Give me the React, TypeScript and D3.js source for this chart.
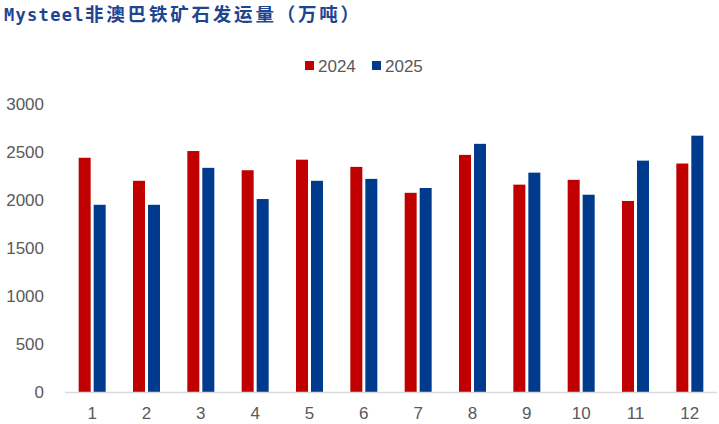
import React from "react";
import * as d3 from "d3";

const months = ["1", "2", "3", "4", "5", "6", "7", "8", "9", "10", "11", "12"];
const values2024 = [2440, 2200, 2510, 2310, 2420, 2345, 2075, 2470, 2160, 2210, 1990, 2380];
const values2025 = [1950, 1950, 2335, 2010, 2200, 2220, 2125, 2585, 2285, 2055, 2410, 2670];
const seriesNames = ["2024", "2025"];
const yTicks = [0, 500, 1000, 1500, 2000, 2500, 3000];

const W = 719;
const H = 424;
const colors = ["#C00000", "#003A8C"];

export default function App() {
  const left = 65, right = 717, top = 104, bottom = 392;
  const x = d3.scaleBand<string>().domain(months).range([left, right]).paddingInner(0).paddingOuter(0);
  const y = d3.scaleLinear().domain([0, 3000]).range([bottom, top]);
  const barW = 12;
  const gap = 3;
  const series = [values2024, values2025];
  const font = "'Liberation Sans', Arial, sans-serif";

  return (
    <svg width={W} height={H} style={{ position: "absolute", left: 0, top: 0, background: "#fff" }}>
      <rect x={0} y={0} width={W} height={H} fill="#fff" />
      <text x={4} y={21} fontWeight="bold" fill="#1F4591">
        <tspan fontFamily="'DejaVu Sans Mono', monospace" fontSize={17} letterSpacing={1.3}>Mysteel</tspan>
        <tspan x={85} fontFamily="'Noto Sans CJK SC', sans-serif" fontSize={18.5} letterSpacing={2.8}>非澳巴铁矿石发运量（万吨）</tspan>
      </text>
      {/* legend */}
      {seriesNames.map((s, i) => (
        <g key={s} transform={`translate(${305 + i * 67},0)`}>
          <rect x={0} y={61} width={9} height={9} fill={colors[i]} />
          <text x={13} y={72} fontFamily={font} fontSize={17} fill="#595959">{s}</text>
        </g>
      ))}
      {/* y axis labels */}
      {yTicks.map((t) => (
        <text key={t} x={44} y={y(t) + 6} textAnchor="end" fontFamily={font} fontSize={17} fill="#595959">
          {t}
        </text>
      ))}
      {/* bars */}
      {months.map((m, mi) => {
        const cx = (x(m) as number) + x.bandwidth() / 2;
        const start = cx - (barW * 2 + gap) / 2;
        return series.map((vals, si) => (
          <rect
            key={m + "-" + si}
            x={start + si * (barW + gap)}
            y={y(vals[mi])}
            width={barW}
            height={bottom - y(vals[mi])}
            fill={colors[si]}
          />
        ));
      })}
      {/* x axis line */}
      <line x1={left} x2={right} y1={bottom + 0.5} y2={bottom + 0.5} stroke="#D9D9D9" strokeWidth={1.5} />
      {months.map((m) => (
        <text key={m} x={(x(m) as number) + x.bandwidth() / 2} y={419} textAnchor="middle" fontFamily={font} fontSize={17} fill="#595959">
          {m}
        </text>
      ))}
    </svg>
  );
}
